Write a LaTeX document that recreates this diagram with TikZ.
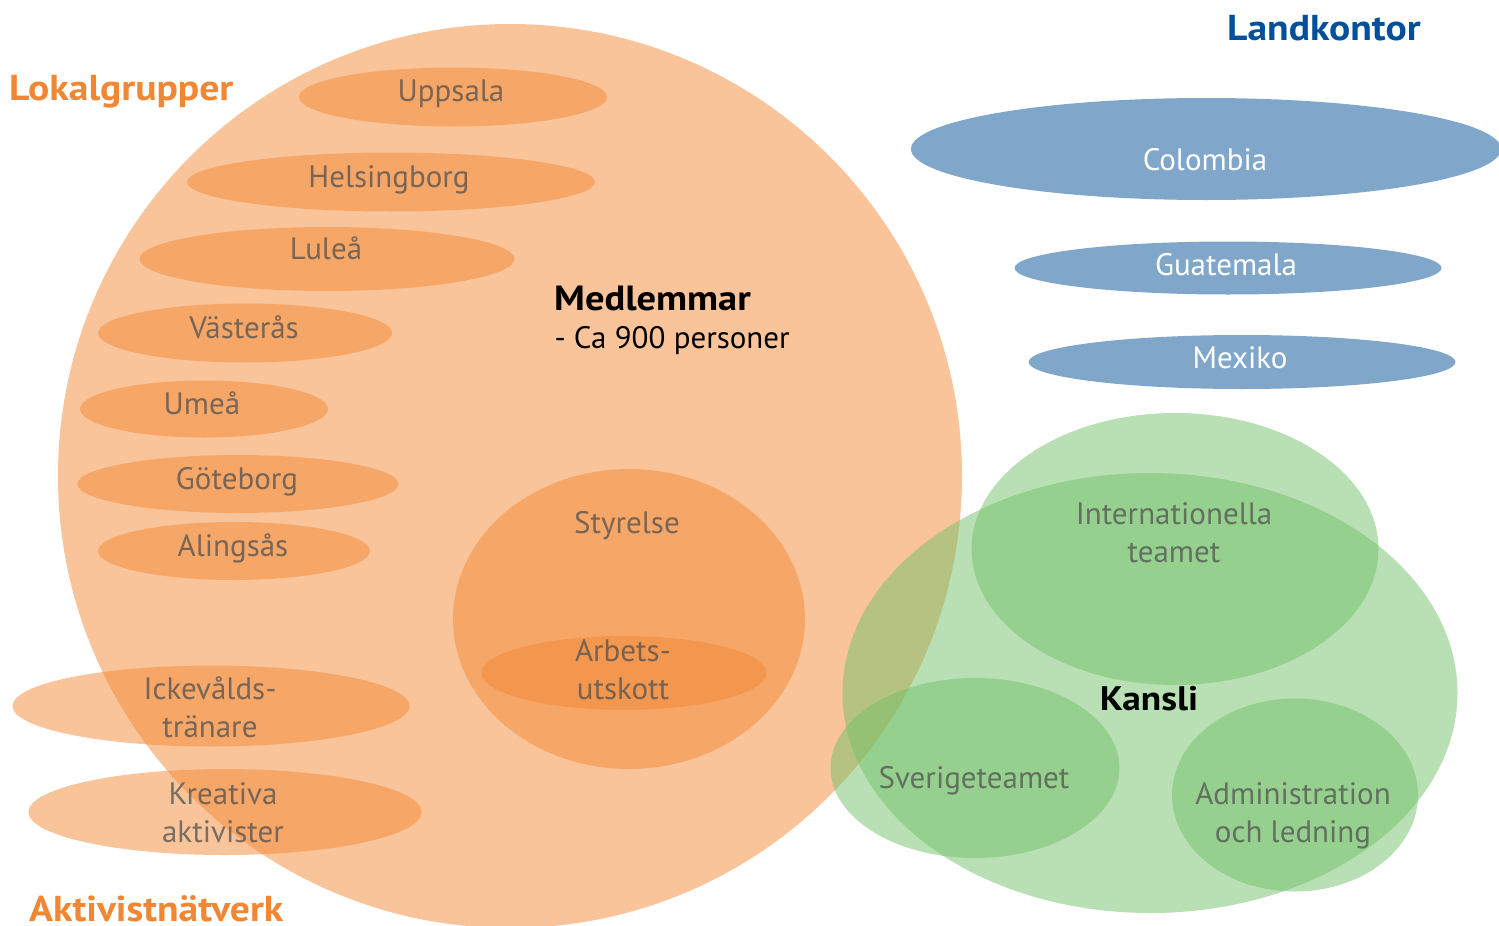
\documentclass[tikz,border=0pt]{standalone}
\usepackage{fontspec}
\setmainfont{PT Sans}[BoldFeatures={FakeStretch=1.1}]
\usetikzlibrary{shapes.geometric}
\definecolor{orangebase}{RGB}{243,137,53}
\definecolor{greenbase}{RGB}{115,193,105}
\definecolor{landblue}{RGB}{128,167,202}
\definecolor{labelgray}{RGB}{80,80,80}
\definecolor{headorange}{RGB}{241,135,50}
\definecolor{headblue}{RGB}{0,80,155}

\begin{document}
\begin{tikzpicture}[x=1pt, y=-1pt,
  blob/.style={ellipse, inner sep=0pt, draw=none, fill opacity=0.5},
  org/.style={blob, fill=orangebase},
  grn/.style={blob, fill=greenbase},
  land/.style={ellipse, inner sep=0pt, fill=landblue},
  lbl/.style={anchor=base, align=center, text=labelgray, text opacity=0.75,
    font=\fontsize{31}{38}\selectfont},
  landlbl/.style={anchor=base, text=white, font=\fontsize{31}{38}\selectfont},
  head/.style={anchor=base west, inner sep=1pt, font=\bfseries\fontsize{36}{40}\selectfont}]
\useasboundingbox (0,0) rectangle (1499,926);
\clip (0,0) rectangle (1499,926);

% members
\node[org, minimum width=904, minimum height=904] (M) at (510,476) {};

% local groups
\node[org, minimum width=308, minimum height=59] (upp) at (453,97) {};
\node[org, minimum width=408, minimum height=59] (hbg) at (391,182) {};
\node[org, minimum width=375, minimum height=64] (lul) at (327,259) {};
\node[org, minimum width=294, minimum height=59] (vas) at (245,333) {};
\node[org, minimum width=248, minimum height=57] (ume) at (204,409) {};
\node[org, minimum width=321, minimum height=58] (gbg) at (238,484) {};
\node[org, minimum width=272, minimum height=58] (ali) at (234,551) {};

% activist networks
\node[org, minimum width=397, minimum height=81] (ick) at (211,706) {};
\node[org, minimum width=393, minimum height=86] (kre) at (225,812) {};

% board
\node[org, minimum width=352, minimum height=300] (sty) at (629,619) {};
\node[org, minimum width=285, minimum height=74] (au) at (624,673) {};

% office
\node[grn, minimum width=615, minimum height=440] (K) at (1150,693) {};
\node[grn, minimum width=407, minimum height=272] (int) at (1175,549) {};
\node[grn, minimum width=289, minimum height=180] (sve) at (975,768) {};
\node[grn, minimum width=246, minimum height=193] (adm) at (1295,795) {};

% country offices
\node[land, minimum width=590, minimum height=102] (col) at (1206,149) {};
\node[land, minimum width=427, minimum height=53] (gua) at (1228,268) {};
\node[land, minimum width=427, minimum height=54] (mex) at (1242,362) {};

% texts (two-line ones sit on their last baseline)
\node[lbl] (upp-t) at (451,101) {Uppsala};
\node[lbl] (hbg-t) at (389,187) {Helsingborg};
\node[lbl] (lul-t) at (326,259) {Luleå};
\node[lbl] (vas-t) at (244,338) {Västerås};
\node[lbl] (ume-t) at (202,414) {Umeå};
\node[lbl] (gbg-t) at (237,489) {Göteborg};
\node[lbl] (ali-t) at (233,556) {Alingsås};
\node[lbl] (ick-t) at (210,737) {Ickevålds-\\tränare};
\node[lbl] (kre-t) at (223,842) {Kreativa\\aktivister};
\node[lbl] (sty-t) at (627,533) {Styrelse};
\node[lbl] (au-t) at (623,699) {Arbets-\\utskott};
\node[lbl] (int-t) at (1174,562) {Internationella\\teamet};
\node[lbl] (sve-t) at (974,788) {Sverigeteamet};
\node[lbl] (adm-t) at (1293,842) {Administration\\och ledning};
\node[landlbl] (col-t) at (1205,170) {Colombia};
\node[landlbl] (gua-t) at (1226,275) {Guatemala};
\node[landlbl] (mex-t) at (1240,368) {Mexiko};

\node[head, anchor=base, font=\bfseries\fontsize{34}{40}\selectfont] (K-t) at (1149,710) {Kansli};
\node[head, font=\bfseries\fontsize{35}{40}\selectfont] (M-t) at (553,310) {Medlemmar};
\node[anchor=base west, font=\fontsize{31}{38}\selectfont] (M-s) at (551,348) {- Ca 900 personer};
\node[head, text=headorange] (lok-t) at (8,100) {Lokalgrupper};
\node[head, text=headorange] (akt-t) at (28,921) {Aktivistnätverk};
\node[head, text=headblue] (land-t) at (1226,40) {Landkontor};
\end{tikzpicture}
\end{document}
